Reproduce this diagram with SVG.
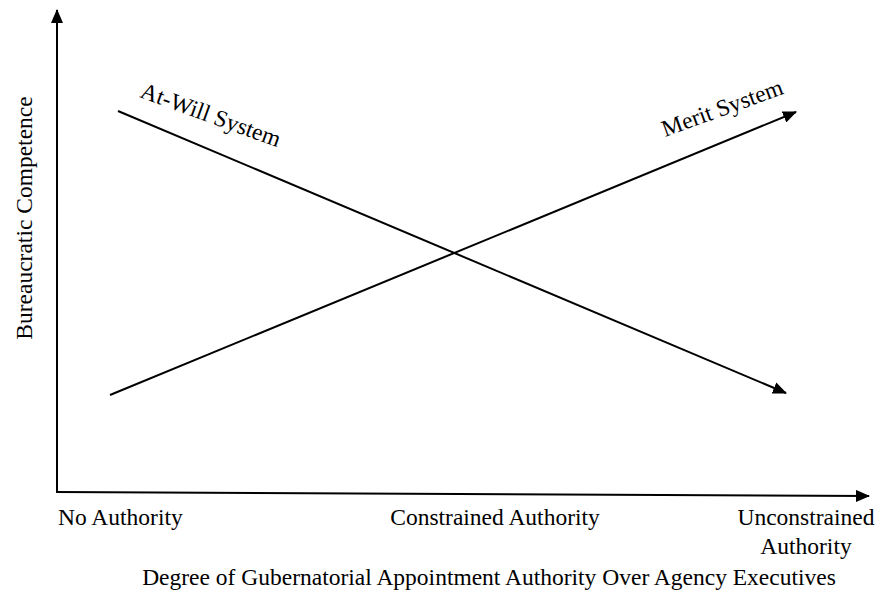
<svg xmlns="http://www.w3.org/2000/svg" width="876" height="590" viewBox="0 0 876 590">
<style>
text{font-family:"Liberation Serif","Times New Roman",serif;font-size:23.5px;fill:#000}
.ln{stroke:#000;stroke-width:2;fill:none}
</style>
<defs>
<marker id="ah2" markerWidth="14" markerHeight="12" refX="13" refY="6" orient="auto" markerUnits="userSpaceOnUse"><path d="M0,0 L14,6 L0,12 z" fill="#000"/></marker>
</defs>
<g id="axes">
<line class="ln" x1="57" y1="493" x2="57" y2="10" marker-end="url(#ah2)"/>
<line class="ln" x1="57" y1="492" x2="869" y2="496" marker-end="url(#ah2)"/>
</g>
<g id="connectors">
<line class="ln" x1="118" y1="111" x2="786" y2="393" marker-end="url(#ah2)"/>
<line class="ln" x1="110" y1="395" x2="796" y2="112" marker-end="url(#ah2)"/>
</g>
<g id="labels">
<text x="139" y="97" transform="rotate(20 139 97)">At-Will System</text>
<text x="665" y="137" transform="rotate(-20 665 137)">Merit System</text>
<text x="32" y="218" text-anchor="middle" transform="rotate(-90 32 218)">Bureaucratic Competence</text>
<text x="58" y="525">No Authority</text>
<text x="495" y="525" text-anchor="middle">Constrained Authority</text>
<text x="806" y="525" text-anchor="middle">Unconstrained</text>
<text x="806" y="554" text-anchor="middle">Authority</text>
<text x="489" y="585" text-anchor="middle">Degree of Gubernatorial Appointment Authority Over Agency Executives</text>
</g>
</svg>
